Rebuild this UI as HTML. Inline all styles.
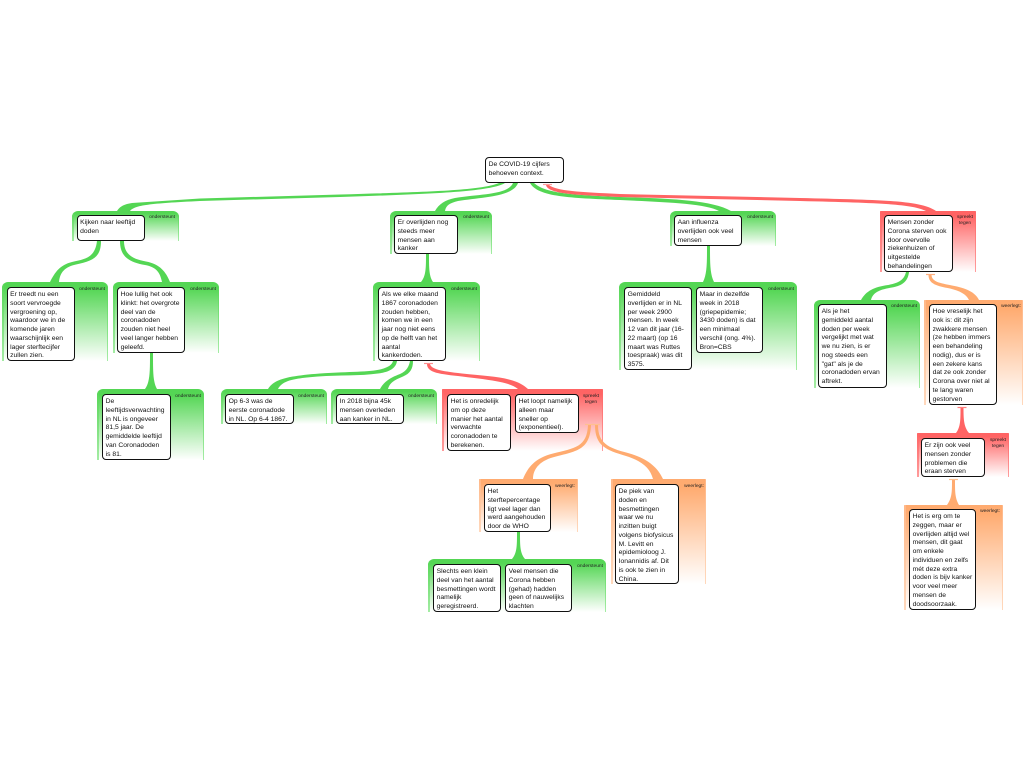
<!DOCTYPE html>
<html lang="nl"><head><meta charset="utf-8"><title>De COVID-19 cijfers behoeven context</title>
<style>
html,body{margin:0;padding:0;background:#fff}
#c{position:relative;width:1024px;height:768px;overflow:hidden;background:#fff;font-family:"Liberation Sans",sans-serif}
.p{position:absolute;border-radius:6px 6px 0 0;box-sizing:border-box;overflow:hidden}
.g{background:linear-gradient(#54d654 0,#54d654 8%,#fff 100%)}
.r{background:linear-gradient(#ff6464 0,#ff6464 8%,#fff 100%);border-radius:1px 1px 0 0}
.o{background:linear-gradient(#ffab70 0,#ffab70 8%,#fff 100%);border-radius:1px 1px 0 0}
.p:before,.p:after{content:"";position:absolute;top:0;bottom:0;width:1.5px}
.p:before{left:0}.p:after{right:0}
.g:before,.g:after{background:linear-gradient(#54d654,#a4eca4)}
.r:before,.r:after{background:linear-gradient(#ff6464,#ff9c9c)}
.o:before,.o:after{background:linear-gradient(#ffb888,#ffd8bc)}
.n{position:absolute;box-sizing:border-box;background:#fff;border:1px solid #111;border-bottom-width:1.3px;border-radius:4px;padding:3px 0 0 2.6px;font-size:6.75px;line-height:8.75px;color:#111;white-space:nowrap}
.l{position:absolute;font-size:4.9px;line-height:6.4px;color:#222;text-align:center;white-space:nowrap}
svg{position:absolute;left:0;top:0}
</style></head><body><div id="c">

<div class="p g" style="left:72px;top:211px;width:107px;height:30px"></div>
<div class="p g" style="left:2px;top:282px;width:106px;height:79px"></div>
<div class="p g" style="left:113px;top:282px;width:106px;height:71px"></div>
<div class="p g" style="left:97px;top:389px;width:107px;height:71px"></div>
<div class="p g" style="left:221px;top:389px;width:106px;height:35px"></div>
<div class="p g" style="left:331px;top:389px;width:106px;height:35px"></div>
<div class="p g" style="left:390px;top:211px;width:102px;height:43px"></div>
<div class="p g" style="left:373px;top:282px;width:107px;height:79px"></div>
<div class="p g" style="left:670px;top:211px;width:106px;height:35px"></div>
<div class="p g" style="left:619px;top:282px;width:178px;height:88px"></div>
<div class="p r" style="left:880px;top:211px;width:96px;height:61px"></div>
<div class="p g" style="left:814px;top:300px;width:106px;height:88px"></div>
<div class="p o" style="left:924px;top:300px;width:99px;height:105px"></div>
<div class="p r" style="left:917px;top:433px;width:92px;height:44px"></div>
<div class="p o" style="left:904px;top:505px;width:99px;height:105px"></div>
<div class="p r" style="left:442px;top:389px;width:161px;height:62px"></div>
<div class="p o" style="left:479px;top:479px;width:99px;height:53px"></div>
<div class="p o" style="left:611px;top:479px;width:95px;height:105px"></div>
<div class="p g" style="left:428px;top:559px;width:178px;height:53px"></div>

<svg width="1024" height="768" viewBox="0 0 1024 768">
<g fill="#54d654">
<path d="M117 211C120 206 125 204 132 203L200 198.500L340 194.500C420 192 480 191 499 183L505 183C490 192 430 194 340 197L200 201C150 203.500 135 205 130 211Z"/>
<path d="M435 211C439 204 445 200 455 198C480 194 508 195 513 183L518 183C513 197 482 197 458 201C450 203 446 205 445 211Z"/>
<path d="M530 183L534 183C545 193 570 195 620 197C660 198.500 710 199 731 211L719 211C705 203 660 202 620 200C570 198 538 197 530 183Z"/>
<path d="M50 282C55 272 60 265 72 262C85 259 95 258 97 241L101 241C101 258 92 261 76 264.500C65 267 60 272 59 282Z"/>
<path d="M120 241L124 241C124 254 132 259 146 261.500C160 264 166 272 170 282L162 282C160 272 156 267 145 265C128 262 120 256 120 241Z"/>
<path d="M150 353L153 353C153 372 153 382 157 389L145 389C150 382 150 372 150 353Z"/>
<path d="M426 254L429 254C429 268 429 276 433 282L421 282C426 276 426 268 426 254Z"/>
<path d="M268 389C274 379 288 376 320 373.500C350 371.500 370 372 380 369.500C388 367.500 392 365 393 361L397 361C396 368 390 372 378 373.500C360 376 340 375 318 376.500C292 378.500 282 381 278 389Z"/>
<path d="M380 389C384 381 392 377 400 374C407 371 409 366 410 361L413 361C413 369 410 373.500 403 376.500C395 380 390 382 388 389Z"/>
<path d="M517 532L520 532C520 546 520 553 525 559L512 559C517 553 517 546 517 532Z"/>
<path d="M707 246L710 246C710 263 710 274 714 282L703 282C707 274 707 263 707 246Z"/>
<path d="M861 300C866 291 874 287 888 285C899 283 904 280 906 272L909 272C908 281 903 285.500 892 287.500C880 289.500 873 292 871 300Z"/>
</g>
<g fill="#ff6464">
<path d="M546 185L549 185C556 191 580 192 620 194L800 198C880 200 920 200 936 211L926 211C912 204 880 203 800 201L620 197C575 195 548 194 546 185Z"/>
<path d="M427 364L430 364C431 369 440 371 462 373.500C495 377 515 377 528 389L518 389C510 382 490 380 462 376.500C440 374 427 373 427 364Z"/>
<path d="M960.500 408L963.500 408C963.500 420 964 427 969 433L956 433C960.500 427 960.500 420 960.500 408Z"/>
</g>
<g fill="#ffab70">
<path d="M523 479C528 467 535 458 553 453.500C575 448 587 447 588 425L591 425C590 449 578 451 556 456.500C541 460 533 468 533 479Z"/>
<path d="M595 425L598 425C598 443 608 448 628 453C646 458 657 466 663 479L653 479C650 468 642 461 626 456C606 450 595 446 595 425Z"/>
<path d="M928.500 275L931.500 275C932 282 940 283 952 285.500C966 288 975 292 979 300L969 300C966 294 960 291 950 288.500C937 286 928.500 284 928.500 275Z"/>
<path d="M952 480L955 480C955 492 955 498 959 505L947 505C952 498 952 492 952 480Z"/>
</g>
<g stroke-width="1.2" fill="none">
<line x1="543" y1="184.500" x2="552" y2="184.500" stroke="#ffa0a0"/>
<line x1="424" y1="363.500" x2="433" y2="363.500" stroke="#ff9090"/>
<line x1="957.500" y1="407.500" x2="966.500" y2="407.500" stroke="#ff8080"/>
<line x1="585" y1="424.500" x2="593" y2="424.500" stroke="#ffc090"/>
<line x1="592" y1="424.500" x2="600" y2="424.500" stroke="#ffc090"/>
<line x1="926" y1="274.500" x2="935" y2="274.500" stroke="#ffb080"/>
<line x1="949" y1="479.500" x2="958" y2="479.500" stroke="#ffc090"/>
</g>
</svg>

<div class="n" style="left:485px;top:157px;width:79px;height:26px">De COVID-19 cijfers<br>behoeven context.</div>
<div class="n" style="left:76.500px;top:215px;width:68.500px;height:26px">Kijken naar leeftijd<br>doden</div>
<div class="n" style="left:6.500px;top:287px;width:68px;height:74px">Er treedt nu een<br>soort vervroegde<br>vergroening op,<br>waardoor we in de<br>komende jaren<br>waarschijnlijk een<br>lager sterftecijfer<br>zullen zien.</div>
<div class="n" style="left:117px;top:287px;width:68px;height:66px">Hoe lullig het ook<br>klinkt: het overgrote<br>deel van de<br>coronadoden<br>zouden niet heel<br>veel langer hebben<br>geleefd.</div>
<div class="n" style="left:102px;top:394px;width:69px;height:66px">De<br>leeftijdsverwachting<br>in NL is ongeveer<br>81,5 jaar. De<br>gemiddelde leeftijd<br>van Coronadoden<br>is 81.</div>
<div class="n" style="left:225px;top:394px;width:69px;height:30px">Op 6-3 was de<br>eerste coronadode<br>in NL. Op 6-4 1867.</div>
<div class="n" style="left:336px;top:394px;width:68px;height:30px">In 2018 bijna 45k<br>mensen overleden<br>aan kanker in NL.</div>
<div class="n" style="left:394px;top:215px;width:64px;height:39px">Er overlijden nog<br>steeds meer<br>mensen aan<br>kanker</div>
<div class="n" style="left:378px;top:287px;width:67.500px;height:74px">Als we elke maand<br>1867 coronadoden<br>zouden hebben,<br>komen we in een<br>jaar nog niet eens<br>op de helft van het<br>aantal<br>kankerdoden.</div>
<div class="n" style="left:674px;top:215px;width:68px;height:31px">Aan influenza<br>overlijden ook veel<br>mensen</div>
<div class="n" style="left:624px;top:287px;width:68px;height:83px">Gemiddeld<br>overlijden er in NL<br>per week 2900<br>mensen. In week<br>12 van dit jaar (16-<br>22 maart) (op 16<br>maart was Ruttes<br>toespraak) was dit<br>3575.</div>
<div class="n" style="left:696px;top:287px;width:67px;height:66px">Maar in dezelfde<br>week in 2018<br>(griepepidemie;<br>3430 doden) is dat<br>een minimaal<br>verschil (ong. 4%).<br>Bron=CBS</div>
<div class="n" style="left:884px;top:215px;width:69px;height:57px">Mensen zonder<br>Corona sterven ook<br>door overvolle<br>ziekenhuizen of<br>uitgestelde<br>behandelingen</div>
<div class="n" style="left:818px;top:304px;width:69px;height:84px">Als je het<br>gemiddeld aantal<br>doden per week<br>vergelijkt met wat<br>we nu zien, is er<br>nog steeds een<br>"gat" als je de<br>coronadoden ervan<br>aftrekt.</div>
<div class="n" style="left:929px;top:304px;width:68px;height:101px">Hoe vreselijk het<br>ook is: dit zijn<br>zwakkere mensen<br>(ze hebben immers<br>een behandeling<br>nodig), dus er is<br>een zekere kans<br>dat ze ook zonder<br>Corona over niet al<br>te lang waren<br>gestorven</div>
<div class="n" style="left:921px;top:438px;width:64px;height:39px">Er zijn ook veel<br>mensen zonder<br>problemen die<br>eraan sterven</div>
<div class="n" style="left:909px;top:509px;width:67px;height:101px">Het is erg om te<br>zeggen, maar er<br>overlijden altijd wel<br>mensen, dit gaat<br>om enkele<br>individuen en zelfs<br>mét deze extra<br>doden is bijv kanker<br>voor veel meer<br>mensen de<br>doodsoorzaak.</div>
<div class="n" style="left:447px;top:394px;width:64px;height:57px">Het is onredelijk<br>om op deze<br>manier het aantal<br>verwachte<br>coronadoden te<br>berekenen.</div>
<div class="n" style="left:515px;top:394px;width:64px;height:39px">Het loopt namelijk<br>alleen maar<br>sneller op<br>(exponentieel).</div>
<div class="n" style="left:484px;top:484px;width:67px;height:48px">Het<br>sterftepercentage<br>ligt veel lager dan<br>werd aangehouden<br>door de WHO</div>
<div class="n" style="left:615px;top:484px;width:64px;height:100px">De piek van<br>doden en<br>besmettingen<br>waar we nu<br>inzitten buigt<br>volgens biofysicus<br>M. Levitt en<br>epidemioloog J.<br>Ionannidis af. Dit<br>is ook te zien in<br>China.</div>
<div class="n" style="left:433px;top:564px;width:68px;height:48px">Slechts een klein<br>deel van het aantal<br>besmettingen wordt<br>namelijk<br>geregistreerd.</div>
<div class="n" style="left:505px;top:564px;width:67px;height:48px">Veel mensen die<br>Corona hebben<br>(gehad) hadden<br>geen of nauwelijks<br>klachten</div>

<div class="l" style="right:849px;top:215px">ondersteunt</div>
<div class="l" style="right:919px;top:287px">ondersteunt</div>
<div class="l" style="right:808px;top:287px">ondersteunt</div>
<div class="l" style="right:823px;top:394px">ondersteunt</div>
<div class="l" style="right:700px;top:394px">ondersteunt</div>
<div class="l" style="right:590px;top:394px">ondersteunt</div>
<div class="l" style="right:535px;top:215px">ondersteunt</div>
<div class="l" style="right:547px;top:287px">ondersteunt</div>
<div class="l" style="right:251px;top:215px">ondersteunt</div>
<div class="l" style="right:230px;top:287px">ondersteunt</div>
<div class="l" style="right:107px;top:304px">ondersteunt</div>
<div class="l" style="right:421px;top:564px">ondersteunt</div>
<div class="l" style="left:957px;top:215px;width:16px">spreekt<br>tegen</div>
<div class="l" style="left:582px;top:394px;width:18px">spreekt<br>tegen</div>
<div class="l" style="left:989px;top:438px;width:18px">spreekt<br>tegen</div>
<div class="l" style="right:3px;top:304px">weerlegt:</div>
<div class="l" style="right:449px;top:484px">weerlegt:</div>
<div class="l" style="right:320px;top:484px">weerlegt:</div>
<div class="l" style="right:24px;top:509px">weerlegt:</div>
</div></body></html>
